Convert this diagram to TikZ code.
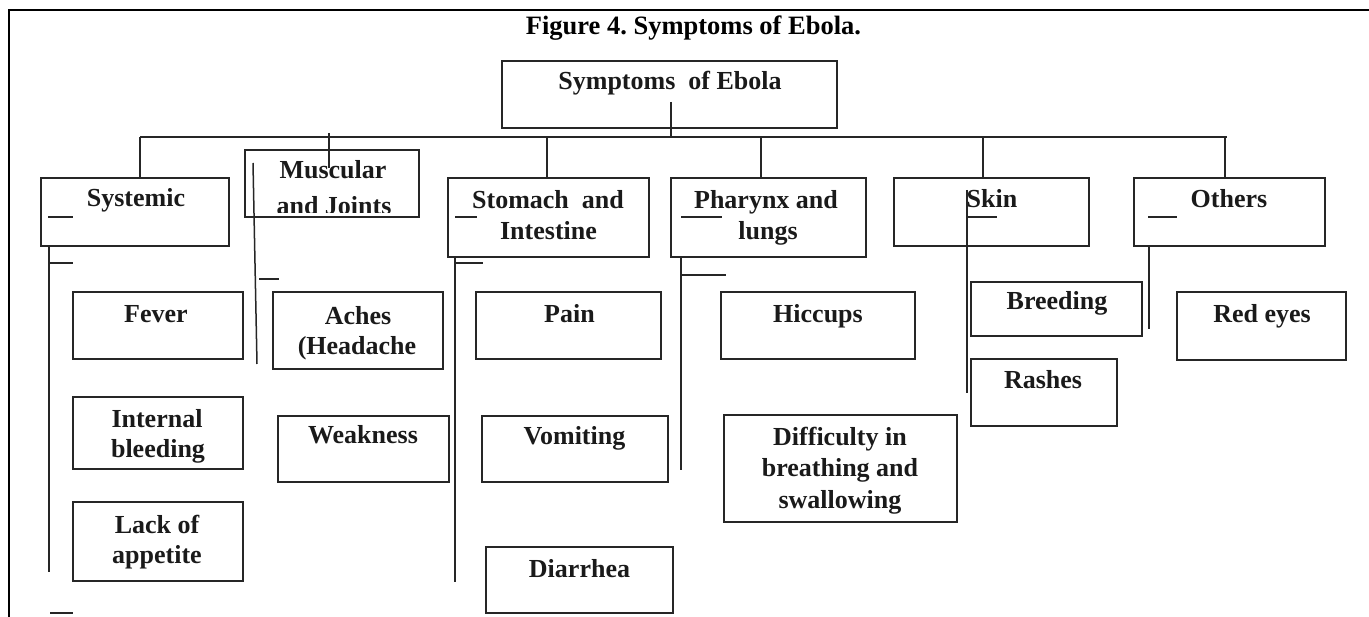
\documentclass[tikz,border=0pt]{standalone}
\usepackage{fontspec}
\setmainfont{Liberation Serif}
\frenchspacing
\definecolor{ink}{HTML}{262626}
\definecolor{txt}{HTML}{1A1A1A}
\begin{document}
\begin{tikzpicture}[x=1pt,y=-1pt,
  box/.style={draw=ink,line width=1.5pt,rectangle,inner sep=0pt},
  lbl/.style={anchor=base,inner sep=0pt,text=txt,font=\fontsize{26}{30}\selectfont\bfseries},
  ttl/.style={anchor=base,inner sep=0pt,text=black,font=\fontsize{26.5}{30}\selectfont\bfseries},
  wire/.style={draw=ink,line width=1.5pt},
  frame/.style={draw=black,line width=2.8pt}]
\useasboundingbox (0,0) rectangle (1369,617);
% frame
\coordinate (fbl) at (9,617);
\coordinate (ftl) at (9,10);
\coordinate (ftr) at (1369,10);
\draw[frame] (fbl) -- (ftl) -- (ftr);
\node[ttl] (title) at (693.5,35) {Figure 4. Symptoms of Ebola.};
% boxes
\node[box,minimum width=335pt,minimum height=67pt] (root) at (669.5,94.5) {};
\node[box,minimum width=188pt,minimum height=68pt] (sys) at (135,212) {};
\node[box,minimum width=174pt,minimum height=67pt] (mus) at (332,183.5) {};
\node[box,minimum width=201pt,minimum height=79pt] (sto) at (548.5,217.5) {};
\node[box,minimum width=195pt,minimum height=79pt] (pha) at (768.5,217.5) {};
\node[box,minimum width=195pt,minimum height=68pt] (skin) at (991.5,212) {};
\node[box,minimum width=191pt,minimum height=68pt] (oth) at (1229.5,212) {};
\node[box,minimum width=170pt,minimum height=67pt] (fever) at (158,325.5) {};
\node[box,minimum width=170pt,minimum height=72pt] (intb) at (158,433) {};
\node[box,minimum width=170pt,minimum height=79pt] (lack) at (158,541.5) {};
\node[box,minimum width=170pt,minimum height=77pt] (aches) at (358,330.5) {};
\node[box,minimum width=171pt,minimum height=66pt] (weak) at (363.5,449) {};
\node[box,minimum width=185pt,minimum height=67pt] (pain) at (568.5,325.5) {};
\node[box,minimum width=186pt,minimum height=66pt] (vom) at (575,449) {};
\node[box,minimum width=187pt,minimum height=66pt] (diar) at (579.5,580) {};
\node[box,minimum width=194pt,minimum height=67pt] (hic) at (818,325.5) {};
\node[box,minimum width=233pt,minimum height=107pt] (diff) at (840.5,468.5) {};
\node[box,minimum width=171pt,minimum height=54pt] (breed) at (1056.5,309) {};
\node[box,minimum width=146pt,minimum height=67pt] (rash) at (1044,392.5) {};
\node[box,minimum width=169pt,minimum height=68pt] (red) at (1261.5,326) {};
% labels
\node[lbl] (troot) at (670,90) {Symptoms\ \ of Ebola};
\node[lbl] (tsys) at (136,207) {Systemic};
\node[lbl] (tmus1) at (333,179) {Muscular};
\begin{scope}
\clip (245,150) rectangle (419,213);
\node[lbl] (tmus2) at (334,215) {and Joints};
\end{scope}
\node[lbl] (tsto1) at (548,209) {Stomach\ \ and};
\node[lbl] (tsto2) at (548.5,240) {Intestine};
\node[lbl] (tpha1) at (766,209) {Pharynx and};
\node[lbl] (tpha2) at (768,240) {lungs};
\node[lbl] (tskin) at (992,208) {Skin};
\node[lbl] (toth) at (1229,208) {Others};
\node[lbl] (tfever) at (156,323) {Fever};
\node[lbl] (tintb1) at (157,428) {Internal};
\node[lbl] (tintb2) at (158,458) {bleeding};
\node[lbl] (tlack1) at (157,533) {Lack of};
\node[lbl] (tlack2) at (157,563) {appetite};
\node[lbl] (taches1) at (358,325) {Aches};
\node[lbl] (taches2) at (357,355) {(Headache};
\node[lbl] (tweak) at (363,444) {Weakness};
\node[lbl] (tpain) at (569.5,323) {Pain};
\node[lbl] (tvom) at (574.5,445) {Vomiting};
\node[lbl] (tdiar) at (579.5,577) {Diarrhea};
\node[lbl] (thic) at (818,323) {Hiccups};
\node[lbl] (tdiff1) at (840,446) {Difficulty in};
\node[lbl] (tdiff2) at (840,477) {breathing and};
\node[lbl] (tdiff3) at (840,508) {swallowing};
\node[lbl] (tbreed) at (1057,310) {Breeding};
\node[lbl] (trash) at (1043,389) {Rashes};
\node[lbl] (tred) at (1262,323) {Red eyes};
% connector coordinates
\coordinate (rs) at (671,102);
\coordinate (rb) at (671,137);
\coordinate (barL) at (140,137);
\coordinate (barR) at (1227,137);
\coordinate (mtop) at (329,133);
\coordinate (mend) at (329,168);
% tree top
\draw[wire] (rs) -- (rb);
\draw[wire] (barL) -- (barR);
\draw[wire] (barL) -- (barL |- sys.north);
\draw[wire] (mtop) -- (mend);
\draw[wire] (547,137) -- (547,178);
\draw[wire] (761,137) -- (761,178);
\draw[wire] (983,137) -- (983,178);
\draw[wire] (1225,137) -- (1225,178);
% systemic subtree
\coordinate (sysA) at (49,246);
\coordinate (sysB) at (49,572);
\draw[wire] (sysA) -- (sysB);
\draw[wire] (49,263) -- (73,263);
\draw[wire] (48,217) -- (73,217);
\draw[wire] (50,613) -- (73,613);
% muscular subtree
\coordinate (musA) at (253,163);
\coordinate (musB) at (257,364);
\draw[wire] (musA) -- (musB);
\draw[wire] (259,279) -- (279,279);
% stomach subtree
\coordinate (stoA) at (455,257);
\coordinate (stoB) at (455,582);
\draw[wire] (stoA) -- (stoB);
\draw[wire] (455,263) -- (483,263);
\draw[wire] (455,217) -- (477,217);
% pharynx subtree
\coordinate (phaA) at (681,257);
\coordinate (phaB) at (681,470);
\draw[wire] (phaA) -- (phaB);
\draw[wire] (681,275) -- (726,275);
\draw[wire] (681,217) -- (722,217);
% skin subtree
\coordinate (skA) at (967,190);
\coordinate (skB) at (967,393);
\draw[wire] (skA) -- (skB);
\draw[wire] (967,217) -- (997,217);
% others subtree
\coordinate (otA) at (1149,246);
\coordinate (otB) at (1149,329);
\draw[wire] (otA) -- (otB);
\draw[wire] (1148,217) -- (1177,217);
\end{tikzpicture}
\end{document}
